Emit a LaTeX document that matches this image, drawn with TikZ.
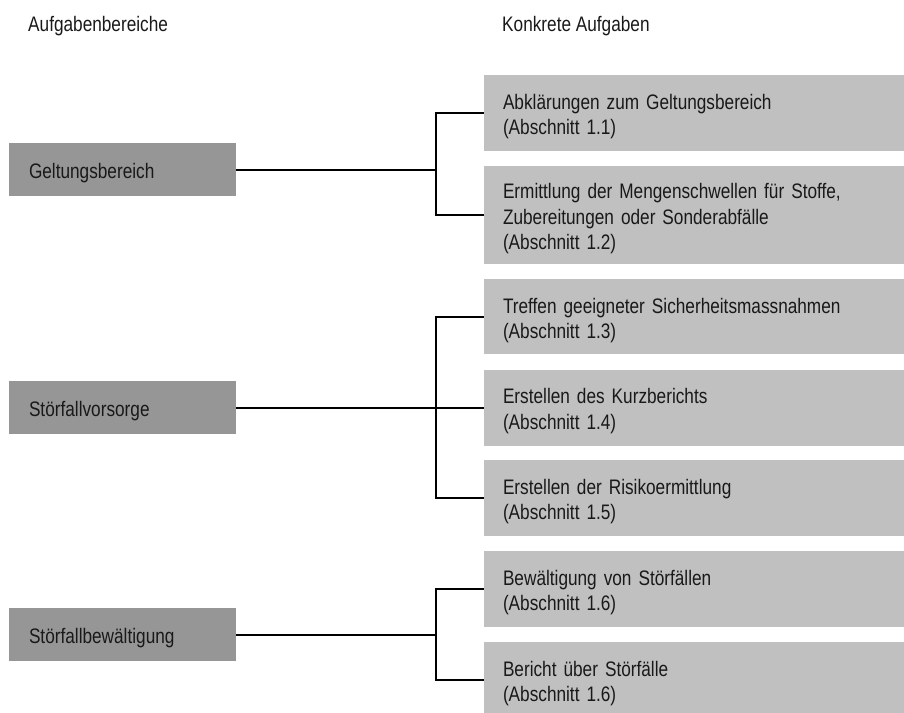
\documentclass[tikz,border=0pt]{standalone}
\usepackage{fontspec}
\setmainfont[FakeStretch=0.82]{Liberation Sans}
\definecolor{leftgray}{RGB}{150,150,150}
\definecolor{rightgray}{RGB}{192,192,192}
\begin{document}
\begin{tikzpicture}[x=1pt,y=-1pt,
  every node/.style={font=\fontsize{21}{25.5}\selectfont, inner sep=0pt, text=black!90},
  boxtext/.style={text height=22.5pt},
  area/.style={boxtext, fill=leftgray, minimum height=53pt, text width=187pt, align=left, inner xsep=20pt},
  task/.style={boxtext, fill=rightgray, text width=382pt, align=left, inner xsep=19pt},
  link/.style={line width=2pt, black}]
\useasboundingbox (0,0) rectangle (904,712);
\clip (0,0) rectangle (904,712);

\node[anchor=base west] (h1) at (28,31) {Aufgabenbereiche};
\node[anchor=base west] (h2) at (502,31) {Konkrete Aufgaben};

\node[area] (a1) at (122.5,169.5) {Geltungsbereich};
\node[area] (a2) at (122.5,407.5) {Störfallvorsorge};
\node[area] (a3) at (122.5,634.5) {Störfallbewältigung};

\node[task, minimum height=76pt] (t1) at (694,113) {Abklärungen zum Geltungsbereich\\(Abschnitt 1.1)};
\node[task, minimum height=98pt] (t2) at (694,215) {Ermittlung der Mengenschwellen für Stoffe,\\Zubereitungen oder Sonderabfälle\\(Abschnitt 1.2)};
\node[task, minimum height=75pt] (t3) at (694,316.7) {Treffen geeigneter Sicherheitsmassnahmen\\(Abschnitt 1.3)};
\node[task, minimum height=76pt] (t4) at (694,407.5) {Erstellen des Kurzberichts\\(Abschnitt 1.4)};
\node[task, minimum height=76pt] (t5) at (694,498) {Erstellen der Risikoermittlung\\(Abschnitt 1.5)};
\node[task, minimum height=76pt] (t6) at (694,589) {Bewältigung von Störfällen\\(Abschnitt 1.6)};
\node[task, minimum height=76pt] (t7) at (694,680) {Bericht über Störfälle\\(Abschnitt 1.6)};

\coordinate (j) at (436,0);

\draw[link] (a1.east) -- (a1.east -| j);
\draw[link] (t1.west) -- (t1.west -| j) -- (t2.west -| j) -- (t2.west);

\draw[link] (a2.east) -- (a2.east -| t4.west);
\draw[link] (t3.west) -- (t3.west -| j) -- (t5.west -| j) -- (t5.west);

\draw[link] (a3.east) -- (a3.east -| j);
\draw[link] (t6.west) -- (t6.west -| j) -- (t7.west -| j) -- (t7.west);
\end{tikzpicture}
\end{document}
